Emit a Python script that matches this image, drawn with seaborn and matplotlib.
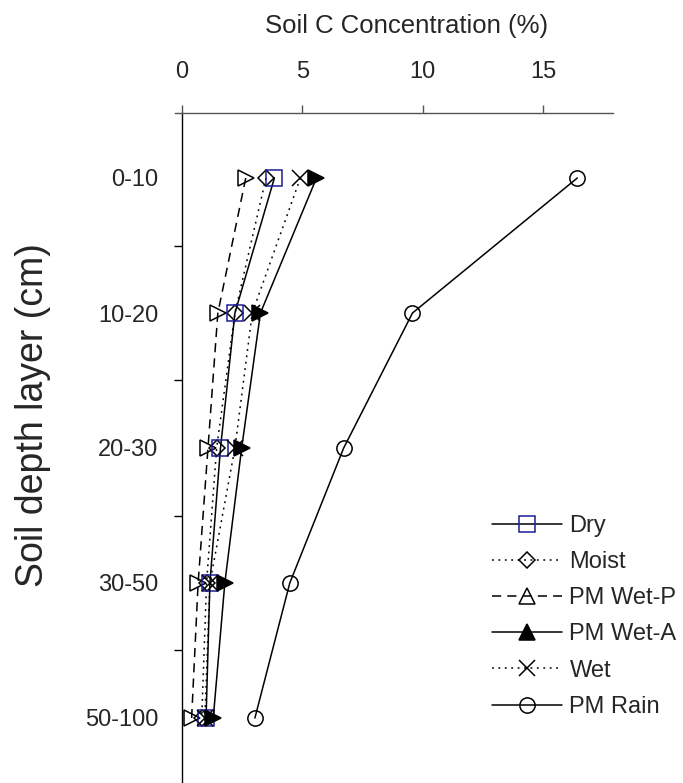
import matplotlib
matplotlib.use("Agg")
import matplotlib.pyplot as plt
from matplotlib.lines import Line2D
import seaborn as sns
import numpy as np

# ---- data ----
depth_labels = ["0-10", "10-20", "20-30", "30-50", "50-100"]
dry = [3.84, 2.20, 1.60, 1.16, 1.00]
moist = [3.49, 2.20, 1.44, 1.02, 0.82]
pm_wet_p = [2.65, 1.49, 1.08, 0.67, 0.40]
pm_wet_a = [5.59, 3.26, 2.48, 1.78, 1.30]
wet = [4.92, 2.92, 2.20, 1.16, 0.95]
pm_rain = [16.43, 9.58, 6.72, 4.48, 3.03]
x_ticks = [0, 5, 10, 15]

sns.set_style("white")
plt.rcParams["font.family"] = ["Liberation Sans", "DejaVu Sans"]

W, H = 683, 783
fig = plt.figure(figsize=(W / 100, H / 100), dpi=100)
ax = fig.add_axes([175 / W, 0, 438 / W, 670 / H])

ypos = np.arange(len(depth_labels))
NAVY = "#1c1c96"
ms = 11
lw = 1.1
dashed = (0, (6, 4))
dotted = (0, (1.2, 3))

series = [
    ("PM Wet-P", pm_wet_p, dict(color="black", linestyle=dashed, marker=">",
                               mfc="none", mec="black"), "^"),
    ("Moist", moist, dict(color="black", linestyle=dotted, marker="D",
                          mfc="none", mec="black", markersize=ms * 0.72), "D"),
    ("Dry", dry, dict(color="black", linestyle="-", marker="s",
                      mfc="none", mec=NAVY), "s"),
    ("Wet", wet, dict(color="black", linestyle=dotted, marker="x",
                      mfc="none", mec="black"), "x"),
    ("PM Wet-A", pm_wet_a, dict(color="black", linestyle="-", marker=">",
                               mfc="black", mec="black"), "^"),
    ("PM Rain", pm_rain, dict(color="black", linestyle="-", marker="o",
                              mfc="none", mec="black"), "o"),
]

for name, vals, kw, _ in series:
    kw = dict(kw)
    kw.setdefault("markersize", ms)
    sns.lineplot(x=vals, y=ypos, sort=False, estimator=None, ax=ax,
                 linewidth=lw, markeredgewidth=1.1, **kw)

ax.set_xlim(-7 / 24.06, -7 / 24.06 + 438 / 24.06)
ax.set_ylim(605 / 135, -65 / 135)

# spines
for s in ["right", "bottom"]:
    ax.spines[s].set_visible(False)
ax.spines["left"].set_position(("data", 0))
ax.spines["left"].set_color("black")
ax.spines["left"].set_linewidth(1.0)
ax.spines["top"].set_color("#555555")
ax.spines["top"].set_linewidth(1.0)

# x axis on top
ax.xaxis.set_ticks_position("top")
ax.xaxis.set_label_position("top")
ax.set_xticks(x_ticks)
ax.set_xticklabels([str(t) for t in x_ticks])
ax.tick_params(axis="x", direction="out", length=5.5, width=1.0,
               color="#555555", labelsize=17, pad=16)
ax.set_xlabel("Soil C Concentration (%)", fontsize=18.5)
ax.xaxis.set_label_coords((407 - 175) / 438, 1 + (113 - 33) / 670)

# y axis
ax.set_yticks(ypos)
ax.set_yticklabels(depth_labels)
ax.set_yticks(ypos[:-1] + 0.5, minor=True)
ax.tick_params(axis="y", which="major", length=0, labelsize=17, pad=17)
ax.tick_params(axis="y", which="minor", direction="out", length=5.5,
               width=1.0, color="black", left=True)
ax.set_ylabel("Soil depth layer (cm)", fontsize=27)
ax.yaxis.set_label_coords((51 - 175) / 438, (783 - 415) / 670)

# legend
order = ["Dry", "Moist", "PM Wet-P", "PM Wet-A", "Wet", "PM Rain"]
lookup = {s[0]: s for s in series}
handles = []
for name in order:
    _, _, kw, lm = lookup[name]
    handles.append(Line2D([], [], color="black", linestyle=kw["linestyle"],
                          linewidth=lw, marker=lm, markersize=ms,
                          markerfacecolor=kw["mfc"], markeredgecolor=kw["mec"],
                          markeredgewidth=1.1))
handles[1].set_markersize(ms * 0.72)
leg = ax.legend(handles, order, loc="upper left",
                bbox_to_anchor=((492 - 175) / 438, (783 - 515) / 670),
                frameon=False, fontsize=17, handlelength=2.95,
                handletextpad=0.33, labelspacing=0.6, borderaxespad=0,
                borderpad=0)

fig.savefig("out.png", dpi=100)
